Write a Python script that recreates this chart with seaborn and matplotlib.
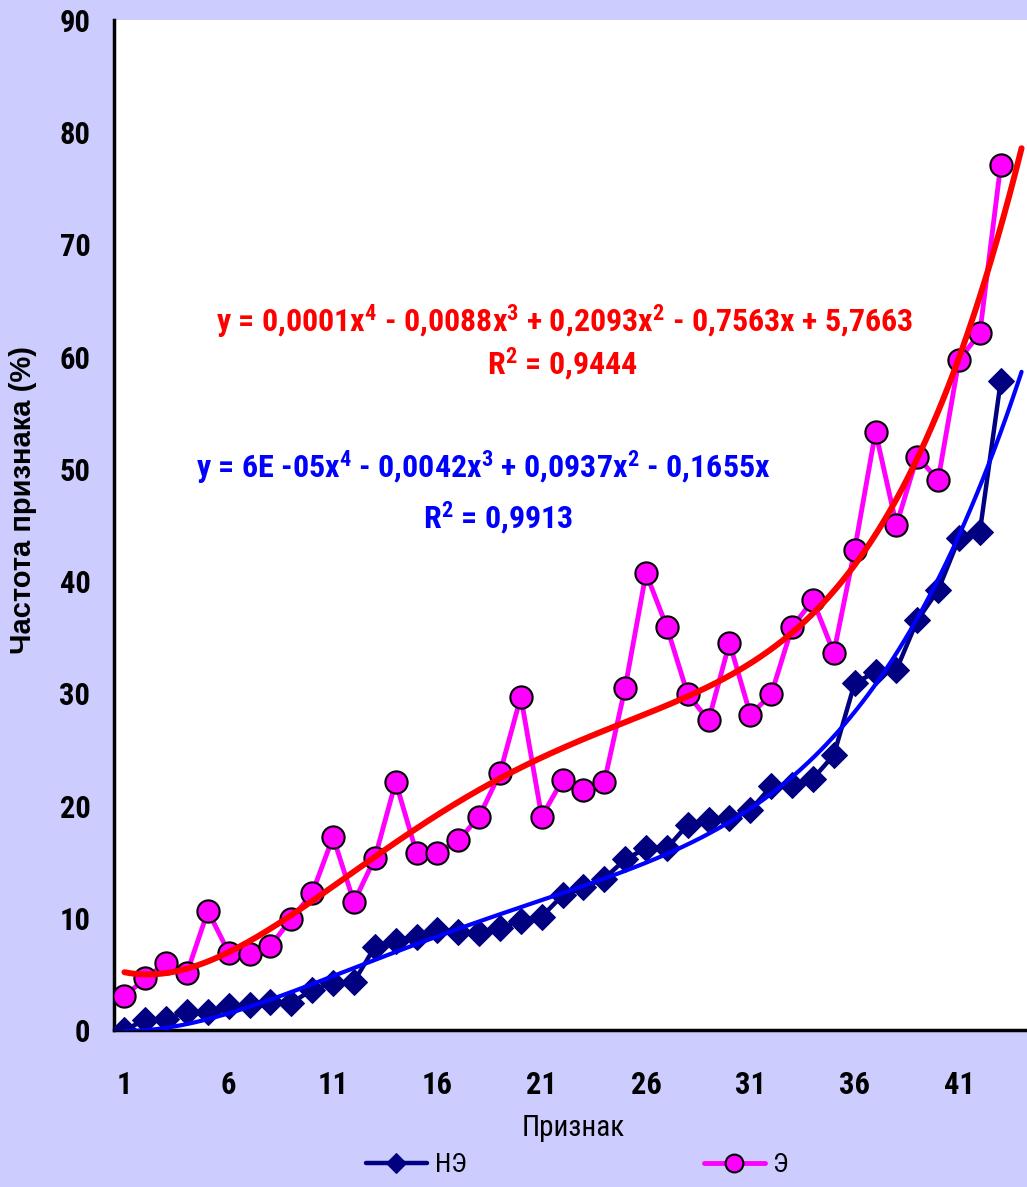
import numpy as np
import pandas as pd
import seaborn as sns
import matplotlib
matplotlib.use("Agg")
import matplotlib.pyplot as plt
from matplotlib import font_manager as fm

# data
priznak = list(range(1, 44))
ne = [0.0, 0.9, 1.0, 1.6, 1.6, 2.1, 2.2, 2.5, 2.4, 3.6, 4.2, 4.3, 7.4, 7.9, 8.3,
      8.9, 8.7, 8.6, 9.1, 9.7, 10.1, 12.0, 12.7, 13.5, 15.2, 16.2, 16.2, 18.3,
      18.7, 18.9, 19.6, 21.7, 21.8, 22.4, 24.5, 30.9, 31.9, 32.1, 36.5, 39.2,
      43.8, 44.4, 57.8]
e = [3.0, 4.6, 6.0, 5.1, 10.6, 6.9, 6.8, 7.5, 9.9, 12.2, 17.2, 11.4, 15.3, 22.1,
     15.8, 15.8, 16.9, 19.0, 22.9, 29.7, 19.0, 22.3, 21.4, 22.1, 30.5, 40.7,
     35.9, 29.9, 27.6, 34.5, 28.1, 29.9, 35.9, 38.3, 33.6, 42.8, 53.3, 45.0,
     51.1, 49.0, 59.7, 62.1, 77.1]
xticks = [1, 6, 11, 16, 21, 26, 31, 36, 41]
eq_e = "y = 0,0001x$^{4}$ - 0,0088x$^{3}$ + 0,2093x$^{2}$ - 0,7563x + 5,7663"
r2_e = "R$^{2}$ = 0,9444"
eq_ne = "y = 6E -05x$^{4}$ - 0,0042x$^{3}$ + 0,0937x$^{2}$ - 0,1655x"
r2_ne = "R$^{2}$ = 0,9913"

df = pd.DataFrame({"x": priznak, "НЭ": ne, "Э": e})

# pick a narrow font if there is one
names = {f.name for f in fm.fontManager.ttflist}
narrow = "DejaVu Sans"
for n in ["Liberation Sans Narrow", "Roboto Condensed", "Open Sans Condensed"]:
    if n in names:
        narrow = n
        break

sns.set_style("white")
plt.rcParams["font.family"] = [narrow, "DejaVu Sans"]
plt.rcParams["mathtext.fontset"] = "custom"
plt.rcParams["mathtext.bf"] = f"{narrow}:bold"
plt.rcParams["mathtext.rm"] = f"{narrow}:bold"
plt.rcParams["mathtext.default"] = "bf"
for k in ["text.color", "axes.labelcolor", "xtick.color", "ytick.color"]:
    plt.rcParams[k] = "black"

bg = "#CCCCFF"
fig = plt.figure(figsize=(10.27, 11.87), dpi=100)
fig.patch.set_facecolor(bg)
ax = fig.add_axes([114 / 1027, 1 - 1030 / 1187, 918 / 1027, 1010 / 1187])
ax.set_facecolor("white")

# polynomial trend lines (4th degree), the НЭ one without intercept
xx = np.linspace(1, 44, 300)
xa = np.array(priznak, dtype=float)
pe = np.polyfit(xa, e, 4)
A = np.vstack([xa ** 4, xa ** 3, xa ** 2, xa]).T
cn = np.linalg.lstsq(A, np.array(ne), rcond=None)[0]
trend = pd.DataFrame({"x": xx, "te": np.polyval(pe, xx),
                      "tn": cn[0] * xx ** 4 + cn[1] * xx ** 3 + cn[2] * xx ** 2 + cn[3] * xx})

sns.lineplot(data=df, x="x", y="НЭ", ax=ax, color="#000080", lw=3.2, marker="D",
             markersize=13, markeredgecolor="#000080", label="НЭ", zorder=3)
sns.lineplot(data=df, x="x", y="Э", ax=ax, color="#FF00FF", lw=3.5, marker="o",
             markersize=16, markeredgecolor="black", markeredgewidth=1.5, label="Э", zorder=4)
sns.lineplot(data=trend, x="x", y="te", ax=ax, color="#FF0000", lw=4.3, zorder=5, legend=False)
sns.lineplot(data=trend, x="x", y="tn", ax=ax, color="#0000FF", lw=3, zorder=5, legend=False)

ax.set_xlim(0.5, 44.5)
ax.set_ylim(0, 90)
for s in ["top", "right"]:
    ax.spines[s].set_visible(False)
for s in ["left", "bottom"]:
    ax.spines[s].set_color("black")
    ax.spines[s].set_linewidth(2.5)
ax.set_yticks(range(0, 91, 10))
ax.set_xticks(xticks)
ax.set_xticks(np.arange(0.5, 45, 5), minor=True)
ax.tick_params(axis="x", which="major", length=0, pad=29, labelsize=22)
ax.tick_params(axis="x", which="minor", length=7, width=2.5, color="black", direction="out")
ax.tick_params(axis="y", length=7, width=2.5, color="black", direction="out", pad=10, labelsize=22)
for t in ax.get_xticklabels() + ax.get_yticklabels():
    t.set_fontweight("bold")

ax.set_xlabel("Признак", fontsize=21, labelpad=10)
ax.set_ylabel("Частота признака (%)", fontsize=21, fontweight="bold",
              family=["Liberation Sans", "DejaVu Sans"])
ax.yaxis.set_label_coords(-0.084, 0.525)

kw = dict(fontsize=23, fontweight="bold", ha="center", va="center")
ax.text(22.1, 63.1, eq_e, color="#FF0000", **kw)
ax.text(22.0, 59.3, r2_e, color="#FF0000", **kw)
ax.text(18.2, 50.1, eq_ne, color="#0000FF", **kw)
ax.text(18.9, 45.6, r2_ne, color="#0000FF", **kw)

ax.get_legend().remove()
h, l = ax.get_legend_handles_labels()
fig.legend(h, l, loc="center", bbox_to_anchor=(577 / 1027, 1 - 1165 / 1187), ncol=2,
           frameon=False, fontsize=19, columnspacing=9, handlelength=2.3,
           handletextpad=0.3, markerscale=0.8)

fig.savefig("out.png", dpi=100, facecolor=bg)
